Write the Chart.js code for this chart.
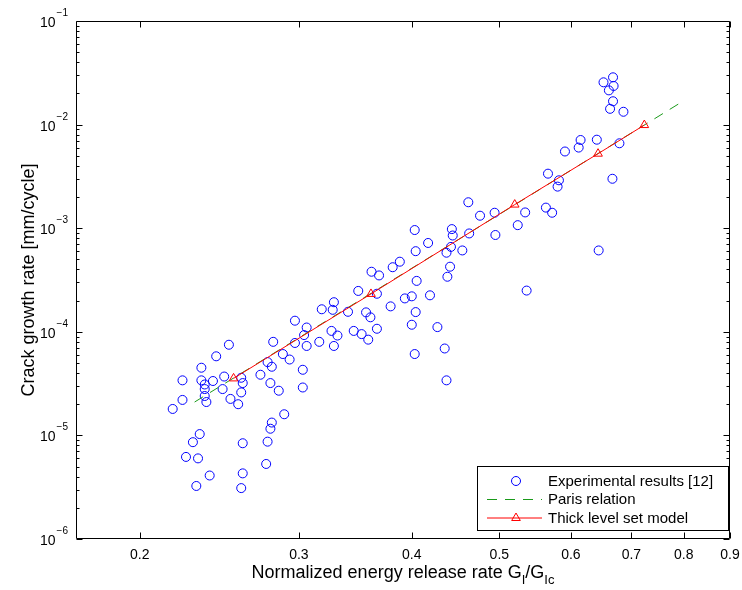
<!DOCTYPE html>
<html lang="en">
<head>
  <meta charset="UTF-8" />
  <title>Crack growth rate vs normalized energy release rate</title>
  <script src="https://cdn.jsdelivr.net/npm/chart.js"></script>
  <style>
    body { margin: 0; background: #fff; }
    #wrap { width: 742px; height: 590px; }
  </style>
</head>
<body>
  <div id="wrap"><canvas id="crackChart" width="742" height="590"></canvas></div>

  <script>
    // Experimental results [12] (G/Gc, da/dN in mm/cycle)
    const expG = [
      0.668, 0.652, 0.669, 0.661, 0.668, 0.663, 0.686, 0.615, 0.612, 0.641,
      0.679, 0.591, 0.566, 0.582, 0.580, 0.667, 0.462, 0.476, 0.494, 0.534,
      0.563, 0.572, 0.524, 0.403, 0.443, 0.444, 0.463, 0.495, 0.417, 0.442,
      0.404, 0.437, 0.455, 0.644, 0.388, 0.441, 0.438, 0.405, 0.536,
      0.400, 0.393, 0.419, 0.404, 0.400, 0.427, 0.403, 0.435, 0.437,
      0.349, 0.366, 0.379, 0.328, 0.327, 0.318, 0.340, 0.356, 0.360, 0.297,
      0.306, 0.366, 0.326, 0.345, 0.304, 0.331, 0.352, 0.358, 0.281, 0.297,
      0.316, 0.306, 0.328, 0.251, 0.243, 0.288, 0.293, 0.277, 0.280, 0.234,
      0.303, 0.272, 0.223, 0.234, 0.241, 0.248, 0.259, 0.236, 0.260, 0.279,
      0.236, 0.247, 0.285, 0.303, 0.259, 0.236, 0.223, 0.237, 0.252, 0.257,
      0.2175, 0.289, 0.280, 0.279, 0.233, 0.229, 0.260, 0.277, 0.225, 0.232,
      0.276, 0.239, 0.260, 0.231, 0.259,
      0.361, 0.368, 0.381
    ];
    const expRate = [
      0.0286, 0.0256, 0.0236, 0.0214, 0.0168, 0.0142, 0.0133, 0.0071, 0.0060, 0.00715,
      0.0066, 0.0055, 0.00336, 0.0029, 0.00252, 0.0030, 0.00178, 0.00132, 0.00141, 0.00142,
      0.00158, 0.00141, 0.00107, 0.00096, 0.00098, 0.00085, 0.00089, 0.00086, 0.00072, 0.00066,
      0.0006, 0.00058, 0.00061, 0.00061, 0.000475, 0.000425, 0.00034, 0.00031, 0.00025,
      0.00022, 0.00021, 0.000225, 0.000155, 0.000117, 0.000111, 6.1e-5, 6.9e-5, 3.4e-5,
      0.000248, 0.000233, 0.000176, 0.000193, 0.000163, 0.000165, 0.000156, 0.000154, 0.000138, 0.000128,
      0.00011, 0.000107, 0.000102, 0.000102, 9.3e-5, 9.2e-5, 9.5e-5, 8.4e-5, 8.0e-5, 7.8e-5,
      8.0e-5, 7.3e-5, 7.3e-5, 7.5e-5, 5.8e-5, 6.1e-5, 5.4e-5, 5.1e-5, 4.6e-5, 4.5e-5,
      4.3e-5, 3.85e-5, 3.4e-5, 3.4e-5, 3.35e-5, 3.7e-5, 3.6e-5, 3.1e-5, 3.2e-5, 3.2e-5,
      2.8e-5, 2.8e-5, 2.7e-5, 2.9e-5, 2.6e-5, 2.4e-5, 2.2e-5, 2.1e-5, 2.25e-5, 2.0e-5,
      1.8e-5, 1.6e-5, 1.33e-5, 1.16e-5, 1.03e-5, 8.6e-6, 8.4e-6, 8.7e-6, 6.2e-6, 6.0e-6,
      5.3e-6, 4.1e-6, 4.3e-6, 3.25e-6, 3.1e-6,
      0.00038, 0.00035, 0.00042
    ];

    // Paris relation (straight line in log-log, end points)
    const parisG = [0.23, 0.80];
    const parisRate = [2.1e-5, 1.7e-2];

    // Thick level set model
    const tlsG = [0.254, 0.3605, 0.520, 0.643, 0.7235];
    const tlsRate = [3.55e-5, 2.32e-4, 1.69e-3, 5.24e-3, 9.9e-3];

    // axes
    const xTicks = [0.2, 0.3, 0.4, 0.5, 0.6, 0.7, 0.8, 0.9];
    const xTickLabels = ['0.2', '0.3', '0.4', '0.5', '0.6', '0.7', '0.8', '0.9'];
    const yExponents = [-6, -5, -4, -3, -2, -1];

    const FONT = '"Liberation Sans", Arial, Helvetica, sans-serif';

    const toPoints = (xs, ys) => xs.map((v, i) => ({ x: v, y: ys[i] }));

    // box, inward ticks, tick labels and axis titles (MATLAB style)
    const axesFrame = {
      id: 'axesFrame',
      afterDatasetsDraw(chart) {
        const { ctx, chartArea: a, scales: { x, y } } = chart;
        const L = Math.round(a.left) + 0.5, R = Math.round(a.right) - 0.5;
        const T = Math.round(a.top) + 0.5, B = Math.round(a.bottom) - 0.5;
        ctx.save();
        ctx.strokeStyle = '#000';
        ctx.lineWidth = 1;
        ctx.beginPath();
        ctx.rect(L, T, R - L, B - T);

        xTicks.forEach(v => {
          const px = Math.round(x.getPixelForValue(v)) + 0.5;
          ctx.moveTo(px, B); ctx.lineTo(px, B - 6);
          ctx.moveTo(px, T); ctx.lineTo(px, T + 6);
        });
        yExponents.forEach(e => {
          for (let m = 1; m <= 9; m++) {
            if (e === -1 && m > 1) break;
            const py = Math.round(y.getPixelForValue(m * Math.pow(10, e))) + 0.5;
            const len = m === 1 ? 6 : 3;
            ctx.moveTo(L, py); ctx.lineTo(L + len, py);
            ctx.moveTo(R, py); ctx.lineTo(R - len, py);
          }
        });
        ctx.stroke();

        ctx.fillStyle = '#000';
        // x tick labels
        ctx.font = '14px ' + FONT;
        ctx.textAlign = 'center';
        ctx.textBaseline = 'alphabetic';
        xTicks.forEach((v, i) => {
          ctx.fillText(xTickLabels[i], x.getPixelForValue(v), 559);
        });

        // y tick labels 10^n
        yExponents.forEach(e => {
          const py = y.getPixelForValue(Math.pow(10, e));
          const sup = '\u2212' + Math.abs(e);
          ctx.font = '10px ' + FONT;
          const sw = ctx.measureText(sup).width;
          ctx.textAlign = 'left';
          ctx.fillText(sup, 68 - sw, py - 5);
          ctx.font = '14px ' + FONT;
          ctx.textAlign = 'right';
          ctx.fillText('10', 67 - sw, py + 6);
        });

        // x title with subscripts
        const parts = [
          ['Normalized energy release rate G', false],
          ['I', true],
          ['/G', false],
          ['Ic', true]
        ];
        const big = '18px ' + FONT, small = '13px ' + FONT;
        let total = 0;
        parts.forEach(([t, sub]) => { ctx.font = sub ? small : big; total += ctx.measureText(t).width; });
        let cx = (a.left + a.right) / 2 - total / 2;
        ctx.textAlign = 'left';
        parts.forEach(([t, sub]) => {
          ctx.font = sub ? small : big;
          ctx.fillText(t, cx, sub ? 584 : 578);
          cx += ctx.measureText(t).width;
        });

        // y title
        ctx.save();
        ctx.translate(34, (a.top + a.bottom) / 2);
        ctx.rotate(-Math.PI / 2);
        ctx.font = big;
        ctx.textAlign = 'center';
        ctx.fillText('Crack growth rate [mm/cycle]', 0, 0);
        ctx.restore();

        ctx.restore();
      },

      // legend box, bottom right inside the axes
      afterDraw(chart) {
        const { ctx } = chart;
        const ds = chart.data.datasets;
        const bx = 477.5, by = 466.5, bw = 251, bh = 64;
        ctx.save();
        ctx.fillStyle = '#fff';
        ctx.fillRect(bx, by, bw, bh);
        ctx.strokeStyle = '#000';
        ctx.lineWidth = 1;
        ctx.strokeRect(bx, by, bw, bh);

        const rows = [481, 499.5, 518];
        const x0 = 487, x1 = 542, xm = 516;

        // experimental
        ctx.strokeStyle = ds[0].borderColor;
        ctx.beginPath();
        ctx.arc(xm, rows[0], ds[0].pointRadius, 0, Math.PI * 2);
        ctx.stroke();

        // paris
        ctx.strokeStyle = ds[1].borderColor;
        ctx.setLineDash(ds[1].borderDash);
        ctx.beginPath();
        ctx.moveTo(x0, rows[1]); ctx.lineTo(x1, rows[1]);
        ctx.stroke();
        ctx.setLineDash([]);

        // tls
        ctx.strokeStyle = ds[2].borderColor;
        ctx.beginPath();
        ctx.moveTo(x0, rows[2]); ctx.lineTo(x1, rows[2]);
        ctx.stroke();
        const r = ds[2].pointRadius;
        ctx.fillStyle = '#fff';
        ctx.beginPath();
        ctx.moveTo(xm, rows[2] - r);
        ctx.lineTo(xm + r * 0.866, rows[2] + r * 0.5);
        ctx.lineTo(xm - r * 0.866, rows[2] + r * 0.5);
        ctx.closePath();
        ctx.stroke();

        ctx.fillStyle = '#000';
        ctx.font = '15px ' + FONT;
        ctx.textAlign = 'left';
        ctx.textBaseline = 'middle';
        ['Experimental results [12]', 'Paris relation', 'Thick level set model'].forEach((t, i) => {
          ctx.fillText(t, 548, rows[i] + 0.5);
        });
        ctx.restore();
      }
    };

    new Chart(document.getElementById('crackChart'), {
      type: 'scatter',
      data: {
        datasets: [
          {
            label: 'Experimental results [12]',
            data: toPoints(expG, expRate),
            showLine: false,
            pointStyle: 'circle',
            pointRadius: 4.5,
            borderWidth: 1,
            borderColor: '#0000ff',
            backgroundColor: 'rgba(0,0,0,0)',
            order: 3
          },
          {
            label: 'Paris relation',
            data: toPoints(parisG, parisRate),
            showLine: true,
            borderColor: '#1a9a1a',
            borderWidth: 1,
            borderDash: [10, 8],
            pointRadius: 0,
            order: 2
          },
          {
            label: 'Thick level set model',
            data: toPoints(tlsG, tlsRate),
            showLine: true,
            borderColor: '#ff0000',
            borderWidth: 1,
            pointStyle: 'triangle',
            pointRadius: 5,
            pointBorderWidth: 1,
            pointBackgroundColor: 'rgba(0,0,0,0)',
            backgroundColor: 'rgba(0,0,0,0)',
            order: 1
          }
        ]
      },
      options: {
        responsive: false,
        animation: false,
        layout: { padding: { left: 76, right: 12, top: 21, bottom: 51 } },
        plugins: {
          legend: { display: false },
          tooltip: { enabled: false }
        },
        scales: {
          x: { type: 'logarithmic', display: false, min: 0.17, max: 0.9 },
          y: { type: 'logarithmic', display: false, min: 1e-6, max: 1e-1 }
        }
      },
      plugins: [axesFrame]
    });
  </script>
</body>
</html>
